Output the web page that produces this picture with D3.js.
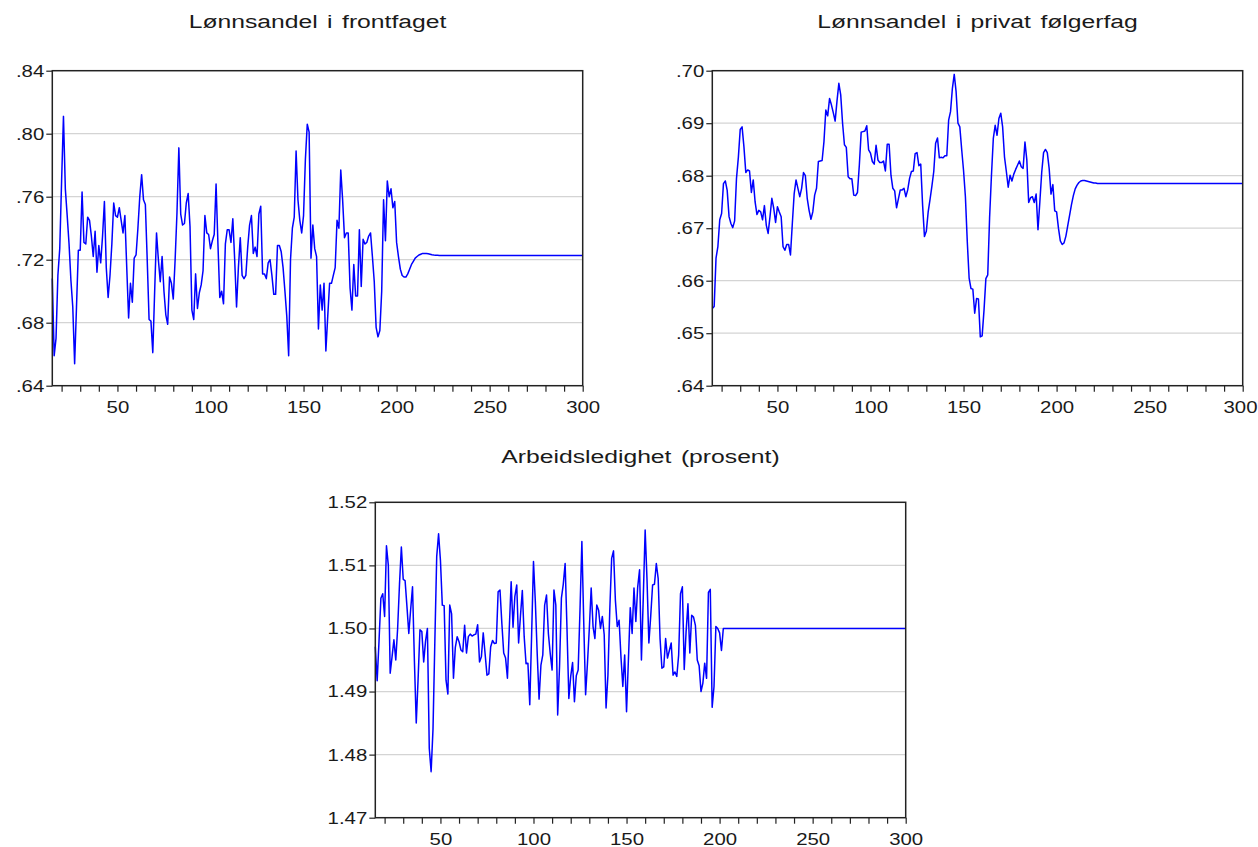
<!DOCTYPE html>
<html><head><meta charset="utf-8">
<script src="https://cdn.jsdelivr.net/npm/d3@7"></script>
<style>
body{margin:0;background:#fff}
text{font-family:"Liberation Sans",Arial,sans-serif;fill:#1a1a1a}
</style>
</head><body>
<svg id="c" width="1258" height="847"></svg>
<script>
// ---------- data ----------
const startPeriod = 15;
const endPeriod = 300;
const xTickLabels = [50, 100, 150, 200, 250, 300];

const titles = ["Lønnsandel i frontfaget", "Lønnsandel i privat følgerfag", "Arbeidsledighet (prosent)"];

// periods 15, 16, 17, ...
const frontfag = [
.708,.659,.670,.710,.727,.770,.811,.765,.748,.730,.707,.690,.654,.690,.726,.726,.763,.731,.730,.747,
.745,.735,.722,.738,.712,.729,.718,.735,.757,.715,.696,.710,.730,.756,.748,.747,.753,.745,.737,.748,
.715,.683,.705,.693,.721,.723,.740,.760,.774,.758,.755,.720,.682,.681,.661,.700,.737,.720,.706,.722,
.700,.685,.679,.709,.705,.695,.720,.750,.791,.749,.742,.743,.756,.762,.741,.688,.682,.711,.689,.699,
.704,.713,.748,.737,.736,.727,.732,.736,.768,.730,.696,.700,.692,.730,.739,.739,.731,.746,.720,.690,
.715,.734,.710,.708,.710,.728,.742,.748,.724,.728,.722,.749,.754,.711,.711,.708,.718,.720,.710,.698,
.698,.729,.729,.725,.715,.700,.684,.659,.720,.740,.747,.789,.758,.745,.737,.748,.784,.806,.801,.721,
.742,.727,.722,.676,.704,.688,.705,.662,.684,.705,.705,.710,.715,.745,.740,.777,.758,.734,.737,.737,
.702,.688,.717,.697,.697,.739,.703,.733,.730,.731,.735,.737,.722,.706,.677,.671,.675,.700,.758,.732,
.770,.760,.765,.753,.757,.731,.722,.714,.710,.709,.709,.711,.714,.717,.719,.721,.722,.723,.7235,.724,
.724,.724,.7238,.7235,.7232,.723,.7229,.7228,.7227,.7227,.7227
];
const frontfagSteady = 0.7227;

const folgerfag = [
.6547,.6551,.6643,.6665,.6716,.6728,.6785,.6790,.6772,.6722,.6709,.6701,.6714,.6795,.6835,.6888,.6893,.6855,.6806,.6811,
.6809,.6768,.6792,.6750,.6726,.6734,.6731,.6716,.6743,.6706,.6690,.6722,.6757,.6738,.6711,.6741,.6731,.6722,.6665,.6658,
.6669,.6669,.6649,.6709,.6766,.6792,.6776,.6760,.6776,.6806,.6800,.6757,.6734,.6717,.6731,.6763,.6776,.6827,.6828,.6829,
.6865,.6925,.6914,.6947,.6935,.6920,.6904,.6942,.6976,.6954,.6900,.6859,.6854,.6798,.6794,.6794,.6763,.6762,.6768,.6820,
.6883,.6884,.6885,.6895,.6849,.6843,.6827,.6822,.6858,.6830,.6825,.6825,.6828,.6809,.6860,.6860,.6801,.6776,.6771,.6739,
.6756,.6773,.6773,.6776,.6760,.6773,.6795,.6808,.6809,.6842,.6844,.6819,.6822,.6744,.6684,.6694,.6731,.6755,.6780,.6808,
.6862,.6872,.6834,.6835,.6834,.6838,.6838,.6906,.6922,.6966,.6993,.6960,.6900,.6893,.6850,.6810,.6760,.6675,.6605,.6585,
.6584,.6538,.6566,.6565,.6493,.6495,.6544,.6604,.6611,.6720,.6801,.6871,.6896,.6877,.6909,.6919,.6893,.6836,.6808,.6778,
.6801,.6790,.6803,.6812,.6820,.6828,.6817,.6814,.6864,.6830,.6749,.6758,.6760,.6749,.6765,.6697,.6750,.6806,.6844,.6850,
.6844,.6814,.6765,.6783,.6733,.6731,.6700,.6676,.6669,.6672,.6685,.6705,.6725,.6745,.6762,.6775,.6782,.6787,.6790,.6791,
.6791,.6790,.6789,.6788,.6787,.6786,.6786,.6785,.6785,.6785,.6785
];
const folgerfagSteady = 0.6785;

const ledighet = [
1.4971,1.4917,1.4980,1.5048,1.5055,1.5019,1.5131,1.5100,1.4929,1.4955,1.4982,1.4950,1.5000,1.5070,1.5129,1.5078,1.5076,1.5035,1.4992,1.5030,
1.5066,1.4950,1.4850,1.4920,1.4998,1.4995,1.4947,1.4980,1.5000,1.4810,1.4773,1.4840,1.4980,1.5114,1.5150,1.5108,1.5037,1.5036,1.4918,1.4896,
1.5037,1.5023,1.4921,1.4970,1.4987,1.4979,1.4966,1.4963,1.5005,1.4961,1.4987,1.4991,1.4988,1.4990,1.4991,1.5006,1.4947,1.4955,1.4993,1.4960,
1.4926,1.4928,1.4971,1.4981,1.4976,1.4977,1.5058,1.5061,1.5008,1.4961,1.4953,1.4921,1.5000,1.5074,1.5002,1.5051,1.5069,1.4977,1.5020,1.5060,
1.4987,1.4944,1.4945,1.4879,1.4990,1.5106,1.5042,1.4960,1.4888,1.4942,1.4958,1.5037,1.5053,1.4992,1.4960,1.4934,1.5061,1.5037,1.4863,1.4940,
1.5048,1.5070,1.5103,1.5000,1.4889,1.4924,1.4946,1.4884,1.4925,1.4934,1.5030,1.5138,1.5010,1.4895,1.4945,1.5000,1.5064,1.5003,1.4984,1.5037,
1.5029,1.5000,1.5019,1.4990,1.4874,1.4926,1.5030,1.5111,1.5123,1.5045,1.5003,1.5013,1.4955,1.4908,1.4958,1.4868,1.4950,1.5033,1.4992,1.5064,
1.5011,1.5066,1.5093,1.4950,1.5050,1.5156,1.5077,1.4977,1.5020,1.5069,1.5070,1.5103,1.5079,1.4984,1.4937,1.4939,1.4984,1.4953,1.4965,1.4977,
1.4926,1.4931,1.4924,1.4958,1.5055,1.5066,1.4935,1.4995,1.5039,1.4961,1.5021,1.5018,1.5005,1.4950,1.4941,1.4900,1.4913,1.4945,1.4921,1.5057,
1.5062,1.4875,1.4908,1.5003,1.5000,1.4993,1.4965,1.5000
];
const ledighetSteady = 1.5000;

const frontfagYTicks = [0.64, 0.68, 0.72, 0.76, 0.80, 0.84];
const folgerfagYTicks = [0.64, 0.65, 0.66, 0.67, 0.68, 0.69, 0.70];
const ledighetYTicks = [1.47, 1.48, 1.49, 1.50, 1.51, 1.52];

// ---------- drawing ----------
const W = 1258;
const svg = d3.select("#c");
const SX = 1.2;      // horizontal text stretch seen in the reference
const TSX = 1.3;     // title stretch

const panels = [
  {title: titles[0], values: frontfag, steady: frontfagSteady, yTicks: frontfagYTicks,
   fmt: v => d3.format(".2f")(v).replace(/^0/, ""), box: [52.3, 582.7, 70.7, 385.7], tdy: 43},
  {title: titles[1], values: folgerfag, steady: folgerfagSteady, yTicks: folgerfagYTicks,
   fmt: v => d3.format(".2f")(v).replace(/^0/, ""), box: [712.3, 1242.7, 70.7, 385.7], tdy: 43},
  {title: titles[2], values: ledighet, steady: ledighetSteady, yTicks: ledighetYTicks,
   fmt: v => d3.format(".2f")(v), box: [375.3, 905.7, 502.3, 817.7], tdy: 39.5}
];

panels.forEach(p => {
  const [x0, x1, y0, y1] = p.box;
  const x = d3.scaleLinear().domain([startPeriod, endPeriod]).range([x0, x1]);
  const y = d3.scaleLinear().domain(d3.extent(p.yTicks)).range([y1, y0]);
  const g = svg.append("g");

  // gridlines
  g.selectAll("line.grid").data(p.yTicks.slice(1, -1)).join("line")
    .attr("x1", x0).attr("x2", x1)
    .attr("y1", d => y(d)).attr("y2", d => y(d))
    .attr("stroke", "#d4d4d4").attr("stroke-width", 1.2);

  // series
  const pts = p.values.map((v, i) => [startPeriod + i, v]);
  pts.push([endPeriod, p.steady]);
  g.append("path").datum(pts)
    .attr("fill", "none").attr("stroke", "#0000ff").attr("stroke-width", 1.5)
    .attr("stroke-linejoin", "round")
    .attr("d", d3.line().x(d => x(d[0])).y(d => y(d[1])));

  // frame
  g.append("rect").attr("x", x0).attr("y", y0).attr("width", x1 - x0).attr("height", y1 - y0)
    .attr("fill", "none").attr("stroke", "#222").attr("stroke-width", 1.5);

  // x axis
  const xa = g.append("g").attr("transform", `translate(0,${y1})`)
    .call(d3.axisBottom(x).tickValues(d3.range(20, endPeriod + 1, 10)).tickSize(6)
      .tickFormat(d => xTickLabels.includes(d) ? d : ""));
  xa.select(".domain").remove();
  xa.selectAll(".tick line").attr("stroke", "#222").attr("stroke-width", 1.2);
  xa.selectAll(".tick text").attr("font-size", 17).attr("fill", "#1a1a1a")
    .attr("y", 15).attr("transform", `scale(${SX},1)`)
    .each(function(d) {
      // keep a label that would run past the page edge inside it
      const half = 16;
      const over = x(d) + half - (W - 2);
      if (over > 0) d3.select(this).attr("x", -over / SX);
    });

  // y axis
  const ya = g.append("g").attr("transform", `translate(${x0},0)`)
    .call(d3.axisLeft(y).tickValues(p.yTicks).tickSize(6).tickFormat(p.fmt));
  ya.select(".domain").remove();
  ya.selectAll(".tick line").attr("stroke", "#222").attr("stroke-width", 1.2);
  ya.selectAll(".tick text").attr("font-size", 17).attr("fill", "#1a1a1a")
    .attr("x", -8 / SX).attr("transform", `scale(${SX},1)`);

  // title
  svg.append("text").attr("transform", `translate(${(x0 + x1) / 2},${y0 - p.tdy}) scale(${TSX},1)`)
    .attr("text-anchor", "middle").attr("font-size", 19).attr("word-spacing", 2).text(p.title);
});
</script>
</body></html>
